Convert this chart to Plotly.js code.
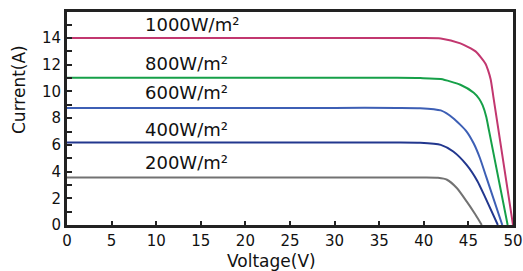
<!DOCTYPE html>
<html><head><meta charset="utf-8">
<script src="https://cdn.plot.ly/plotly-3.0.1.min.js"></script>
<style>html,body{margin:0;padding:0;background:#fff;}#chart{width:523px;height:271px;}</style>
</head><body><div id="chart"></div>
<script>
// Irradiance labels
const seriesNames = ["1000W/m²", "800W/m²", "600W/m²", "400W/m²", "200W/m²"];
// Voltage (V) and current (A) points
const v1000 = [0, 10, 20, 30, 37, 39.6, 41.9, 44.1, 45.8, 46.9, 47.2, 47.5, 47.8, 50];
const i1000 = [14.0, 14.0, 14.0, 14.0, 14.0, 14.0, 13.97, 13.6, 13.0, 12.1, 11.6, 10.9, 9.6, 0];
const v800 = [0, 10, 20, 30, 37, 39.6, 41.9, 44.1, 45.6, 46.2, 46.6, 47.0, 47.3, 49.4];
const i800 = [11.02, 11.02, 11.02, 11.02, 11.02, 11.0, 10.93, 10.5, 9.9, 9.45, 8.95, 8.1, 7.1, 0];
const v600 = [0, 10, 20, 30, 37, 39.6, 41.9, 43.3, 44.8, 45.6, 46.3, 47.0, 48.8];
const i600 = [8.77, 8.77, 8.77, 8.77, 8.77, 8.75, 8.58, 8.0, 7.0, 6.1, 5.0, 3.6, 0];
const v400 = [0, 10, 20, 30, 37, 39.6, 41.9, 43.3, 44.8, 46.0, 46.9, 48.3];
const i400 = [6.17, 6.17, 6.17, 6.17, 6.17, 6.15, 6.0, 5.5, 4.5, 3.3, 2.05, 0];
const v200 = [0, 10, 20, 30, 37, 40, 41.6, 42.6, 43.7, 44.8, 45.8, 46.5];
const i200 = [3.55, 3.55, 3.55, 3.55, 3.55, 3.55, 3.53, 3.39, 2.77, 1.77, 0.77, 0];
// Axis ticks
const yTickVals = [0, 1, 2, 3, 4, 5, 6, 7, 8, 9, 10, 11, 12, 13, 14, 15];
const yTickText = ["0", "", "2", "", "4", "", "6", "", "8", "", "10", "", "12", "", "14", ""];
// Label anchor positions (data units)
const labelX = [8.55, 8.55, 8.55, 8.55, 8.55];
const labelY = [14.99, 12.07, 9.9, 7.17, 4.7];

const colors = ["#c2376f", "#16a048", "#3d5fb5", "#22378e", "#727272"];
const vs = [v1000, v800, v600, v400, v200];
const is = [i1000, i800, i600, i400, i200];

const traces = vs.map((v, k) => ({
  x: v, y: is[k], type: "scatter", mode: "lines", name: seriesNames[k],
  line: {color: colors[k], width: 2, shape: "spline", smoothing: 0.6},
  hoverinfo: "skip"
}));

const font = "DejaVu Sans, sans-serif";
const annotations = seriesNames.map((t, k) => ({
  x: labelX[k], y: labelY[k], xref: "x", yref: "y", text: t, showarrow: false,
  xanchor: "left", yanchor: "middle", font: {family: font, size: 18, color: "#111"}
}));
annotations.push({
  text: "Voltage(V)", xref: "paper", yref: "paper", x: (271 - 67) / 446, y: -0.17,
  xanchor: "center", yanchor: "middle", showarrow: false,
  font: {family: font, size: 17, color: "#111"}
});
annotations.push({
  text: "Current(A)", xref: "paper", yref: "paper", x: (19 - 67) / 446, y: (225 - 90) / 213,
  xanchor: "center", yanchor: "middle", textangle: -90, showarrow: false,
  font: {family: font, size: 17, color: "#111"}
});

const layout = {
  width: 523, height: 271,
  margin: {l: 67, r: 10, t: 12, b: 46, pad: 0},
  paper_bgcolor: "#fff", plot_bgcolor: "#fff",
  showlegend: false,
  font: {family: font, size: 15, color: "#111"},
  xaxis: {
    range: [0, 50], dtick: 5, tick0: 0, showgrid: false, zeroline: false,
    showline: true, linewidth: 3, linecolor: "#222", mirror: true,
    ticks: "inside", ticklen: 4, tickwidth: 2, tickcolor: "#222",
    tickfont: {family: font, size: 15, color: "#111"}
  },
  yaxis: {
    range: [0, 15.95], tickmode: "array", tickvals: yTickVals, ticktext: yTickText,
    showgrid: false, zeroline: false,
    showline: true, linewidth: 3, linecolor: "#222", mirror: true,
    ticks: "inside", ticklen: 5, tickwidth: 2, tickcolor: "#222",
    tickfont: {family: font, size: 15, color: "#111"}
  },
  annotations: annotations
};

Plotly.newPlot("chart", traces, layout, {displayModeBar: false, staticPlot: true});
</script>
</body></html>
